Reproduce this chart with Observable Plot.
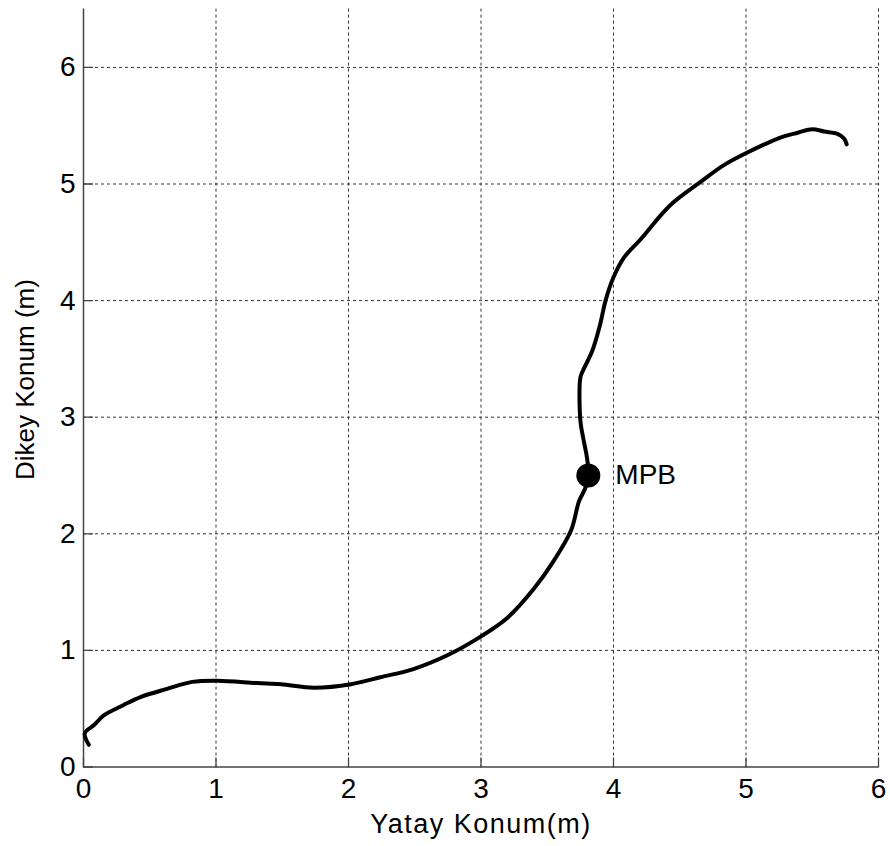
<!DOCTYPE html>
<html>
<head>
<meta charset="utf-8">
<script src="https://cdn.jsdelivr.net/npm/d3@7"></script>
<script src="https://cdn.jsdelivr.net/npm/@observablehq/plot@0.6"></script>
<style>
  html, body { margin: 0; padding: 0; background: #fff; }
  #chart svg { display: block; }
</style>
</head>
<body>
<div id="chart"></div>
<script>
const pathX = [0.04,0.01,0.08,0.15,0.30,0.43,0.63,0.82,1.01,1.31,1.49,1.74,2.02,2.24,2.49,2.75,3.00,3.20,3.40,3.55,3.68,3.74,3.79,3.81,3.80,3.77,3.75,3.75,3.77,3.84,3.90,3.94,4.00,4.08,4.20,4.43,4.66,4.83,5.01,5.24,5.39,5.50,5.59,5.69,5.74,5.76];
const pathY = [0.19,0.29,0.36,0.44,0.53,0.60,0.67,0.73,0.74,0.72,0.71,0.68,0.71,0.77,0.84,0.96,1.12,1.28,1.53,1.77,2.03,2.28,2.40,2.52,2.65,2.83,2.97,3.34,3.40,3.57,3.80,4.00,4.20,4.37,4.52,4.82,5.02,5.16,5.27,5.39,5.44,5.47,5.45,5.43,5.39,5.34];
const markerX = [3.81];
const markerY = [2.50];
const markerLabel = ["MPB"];
const xTicks = [0,1,2,3,4,5,6];
const yTicks = [0,1,2,3,4,5,6];
const xLabel = "Yatay Konum(m)";
const yLabel = "Dikey Konum (m)";

const path = pathX.map((x, i) => ({x, y: pathY[i]}));
const markers = markerX.map((x, i) => ({x, y: markerY[i], label: markerLabel[i]}));

const font = "'Liberation Sans', Arial, Helvetica, sans-serif";
const tickShape = {draw(context, l) { context.moveTo(0, 0); context.lineTo(0, -l); }};

const chart = Plot.plot({
  width: 890,
  height: 846,
  marginLeft: 83,
  marginRight: 12,
  marginTop: 8.6,
  marginBottom: 79.5,
  style: {fontFamily: font, background: "#fff"},
  x: {type: "linear", domain: [0, 6], axis: null},
  y: {type: "linear", domain: [0, 6.5], axis: null},
  marks: [
    // grid
    Plot.ruleX(xTicks.filter(d => d > 0), {x: d => d, stroke: "#333", strokeDasharray: "3,3", strokeWidth: 1}),
    Plot.ruleY(yTicks.filter(d => d > 0), {y: d => d, stroke: "#333", strokeDasharray: "3,3", strokeWidth: 1}),
    // inward ticks
    Plot.vector(xTicks, {x: d => d, y: () => 0, length: 9, rotate: 0, anchor: "start", shape: tickShape, stroke: "#444", strokeWidth: 1.3}),
    Plot.vector(yTicks, {y: d => d, x: () => 0, length: 9, rotate: 90, anchor: "start", shape: tickShape, stroke: "#444", strokeWidth: 1.3}),
    // axis lines
    Plot.ruleX([0], {x: d => d, stroke: "#444", strokeWidth: 1.5}),
    Plot.ruleY([0], {y: d => d, stroke: "#444", strokeWidth: 1.5}),
    // tick labels
    Plot.text(xTicks, {x: d => d, y: () => 0, dy: 22, text: d => String(d), fontSize: 28, fill: "#000"}),
    Plot.text(yTicks, {y: d => d, x: () => 0, dx: -8, text: d => String(d), fontSize: 28, fill: "#000", textAnchor: "end"}),
    // path
    Plot.line(path, {x: "x", y: "y", stroke: "#000", strokeWidth: 4, curve: "catmull-rom", strokeLinejoin: "round"}),
    // marker
    Plot.dot(markers, {x: "x", y: "y", r: 12, fill: "#000", stroke: "none"}),
    Plot.text(markers, {x: "x", y: "y", text: "label", dx: 27, textAnchor: "start", fontSize: 28, fill: "#000"}),
    // axis titles
    Plot.text([xLabel], {frameAnchor: "bottom", dy: 57, lineAnchor: "middle", textAnchor: "middle", text: d => d, fontSize: 27, fill: "#000"}),
    Plot.text([yLabel], {frameAnchor: "left", dx: -58, dy: -8.5, textAnchor: "middle", lineAnchor: "middle", text: d => d, fontSize: 26, fill: "#000", rotate: -90})
  ]
});
d3.select(chart).selectAll("text").filter(function() { return this.textContent === xLabel; }).style("letter-spacing", "1.5px");
document.getElementById("chart").appendChild(chart);
</script>
</body>
</html>
